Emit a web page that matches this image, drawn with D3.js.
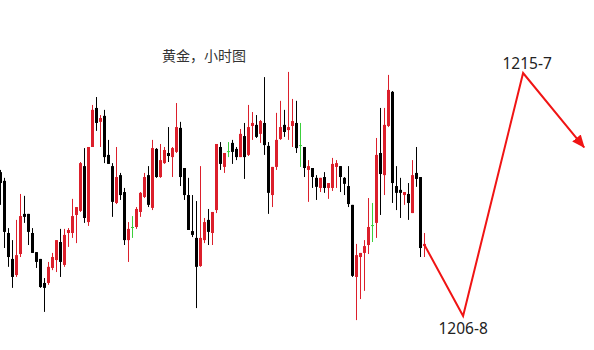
<!DOCTYPE html>
<html>
<head>
<meta charset="utf-8">
<script src="https://cdn.jsdelivr.net/npm/d3@7"></script>
<style>
  html, body { margin: 0; padding: 0; background: #fff; }
  svg { display: block; }
</style>
</head>
<body>
<div id="chart"></div>
<script>
// 黄金 hourly candles (one per hour, left to right)
var opens = [
  1212.07, 1211.75, 1209.84, 1208.89, 1208.30, 1209.07, 1210.54, 1210.54, 1209.84, 1209.14,
  1208.89, 1208.01, 1208.01, 1208.56, 1208.85, 1209.51, 1208.67, 1209.84, 1209.84, 1210.50,
  1210.65, 1212.29, 1210.24, 1212.99, 1214.42, 1213.91, 1214.13, 1212.70, 1212.29, 1210.94,
  1211.96, 1211.34, 1209.58, 1210.06, 1210.06, 1210.61, 1211.16, 1211.96, 1210.76, 1212.92,
  1211.89, 1212.40, 1212.77, 1212.62, 1212.81, 1213.69, 1212.22, 1211.23, 1209.91, 1209.66,
  1208.63, 1209.58, 1210.32, 1209.84, 1210.68, 1212.99, 1212.26, 1212.84, 1213.14, 1212.92,
  1212.62, 1213.39, 1212.70, 1213.76, 1213.80, 1213.47, 1213.87, 1213.03, 1211.23, 1212.26,
  1213.28, 1213.80, 1213.61, 1213.76, 1213.87, 1213.06, 1212.99, 1212.15, 1212.22, 1211.86,
  1211.49, 1211.89, 1211.49, 1211.49, 1212.26, 1212.29, 1211.86, 1211.56, 1210.87, 1208.23,
  1208.96, 1209.11, 1209.40, 1210.13, 1210.21, 1212.77, 1211.96, 1213.76, 1215.01, 1211.56,
  1211.42, 1211.23, 1211.27, 1210.57, 1212.04, 1211.89, 1209.36
];
var highs = [
  1212.15, 1211.86, 1210.02, 1209.58, 1210.32, 1211.27, 1211.20, 1210.54, 1210.02, 1209.14,
  1208.89, 1208.19, 1208.78, 1209.11, 1209.58, 1209.99, 1209.99, 1210.02, 1211.09, 1210.79,
  1212.44, 1212.95, 1212.99, 1214.53, 1214.82, 1214.16, 1214.35, 1213.25, 1212.40, 1212.99,
  1212.04, 1211.49, 1210.24, 1210.46, 1210.79, 1211.34, 1212.04, 1212.29, 1213.25, 1212.95,
  1213.10, 1212.99, 1213.72, 1212.99, 1214.60, 1213.91, 1212.22, 1211.86, 1211.23, 1211.01,
  1212.29, 1210.39, 1210.72, 1210.61, 1213.10, 1213.17, 1212.77, 1213.17, 1213.25, 1212.99,
  1213.65, 1213.87, 1214.53, 1214.27, 1214.16, 1213.98, 1215.55, 1213.17, 1212.26, 1214.24,
  1214.68, 1214.35, 1215.74, 1214.75, 1214.68, 1213.87, 1212.99, 1212.51, 1212.22, 1211.96,
  1211.86, 1212.07, 1211.67, 1212.59, 1212.51, 1212.29, 1211.89, 1212.29, 1210.87, 1209.44,
  1209.11, 1209.58, 1211.12, 1210.94, 1213.32, 1214.42, 1214.42, 1215.63, 1215.04, 1212.29,
  1211.86, 1211.34, 1211.67, 1212.51, 1212.99, 1211.89, 1209.84
];
var lows = [
  1210.87, 1209.29, 1208.60, 1207.83, 1208.23, 1208.96, 1210.21, 1209.40, 1209.11, 1208.56,
  1207.83, 1206.95, 1207.94, 1208.48, 1208.41, 1208.23, 1208.60, 1209.33, 1209.66, 1209.47,
  1210.61, 1210.21, 1210.10, 1212.99, 1213.58, 1212.99, 1212.40, 1212.37, 1210.43, 1210.90,
  1211.05, 1209.40, 1208.78, 1209.66, 1209.99, 1210.43, 1211.12, 1210.79, 1210.68, 1211.86,
  1211.86, 1212.37, 1212.44, 1211.89, 1212.77, 1211.56, 1211.05, 1209.95, 1209.69, 1207.09,
  1208.60, 1209.47, 1209.40, 1209.40, 1210.57, 1212.15, 1212.04, 1212.62, 1212.37, 1212.51,
  1212.62, 1211.82, 1212.66, 1213.25, 1213.32, 1213.14, 1212.70, 1210.54, 1210.79, 1212.15,
  1213.25, 1213.36, 1213.25, 1212.99, 1212.77, 1212.26, 1211.89, 1210.98, 1211.49, 1211.05,
  1211.34, 1211.31, 1211.09, 1211.38, 1211.49, 1211.34, 1211.23, 1210.79, 1208.23, 1206.65,
  1207.42, 1207.72, 1209.07, 1209.51, 1209.66, 1210.50, 1211.23, 1213.72, 1210.94, 1210.68,
  1210.39, 1210.87, 1210.32, 1210.57, 1211.53, 1208.96, 1208.96
];
var closes = [
  1211.67, 1209.88, 1208.96, 1208.23, 1209.03, 1210.46, 1210.43, 1209.88, 1209.11, 1208.78,
  1207.86, 1207.83, 1208.60, 1208.96, 1209.58, 1208.78, 1209.77, 1209.95, 1210.46, 1210.79,
  1212.40, 1210.39, 1212.99, 1214.35, 1213.87, 1214.05, 1212.62, 1212.37, 1210.98, 1211.89,
  1211.23, 1209.58, 1209.99, 1210.06, 1210.72, 1211.31, 1211.89, 1210.87, 1212.95, 1211.89,
  1212.51, 1212.88, 1212.66, 1212.95, 1213.72, 1211.89, 1211.23, 1209.95, 1209.77, 1208.60,
  1209.66, 1210.24, 1209.88, 1210.61, 1213.10, 1212.37, 1212.77, 1212.84, 1212.81, 1212.62,
  1213.47, 1212.62, 1213.72, 1213.87, 1213.36, 1213.94, 1213.06, 1211.31, 1212.26, 1213.25,
  1213.72, 1213.54, 1213.72, 1213.94, 1212.95, 1213.06, 1212.22, 1212.29, 1211.89, 1211.53,
  1211.86, 1211.49, 1211.67, 1212.37, 1212.40, 1211.89, 1211.64, 1210.90, 1208.27, 1209.03,
  1209.11, 1209.36, 1210.06, 1210.13, 1212.70, 1212.00, 1213.80, 1215.08, 1211.67, 1211.31,
  1211.31, 1211.34, 1210.94, 1211.96, 1211.82, 1209.29, 1209.44
];

// the hand drawn forecast: start, low target, high target, then down again
var projHours  = [106, 115.65, 130.65, 145.9];
var projPrices = [1209.40, 1206.8, 1215.7, 1212.98];
var projLabels = ["", "1206-8", "1215-7", ""];

var title = "黄金，小时图";

(function() {
  var width = 594, height = 350;

  var svg = d3.select("#chart")
    .append("svg")
      .attr("width", width)
      .attr("height", height);

  var x = d3.scaleLinear()
    .domain([0, 106])
    .range([0.5, 424.5]);

  var y = d3.scaleLinear()
    .domain([1206.8, 1215.7])
    .range([316, 73]);

  var data = opens.map(function(o, i) {
    return { i: i, open: o, high: highs[i], low: lows[i], close: closes[i] };
  });

  function colour(d) {
    if (d.close > d.open) return "#dc1f2b";
    if (d.close < d.open) return "#000";
    return "#3ccf3c";
  }

  var candles = svg.append("g").selectAll("g")
    .data(data)
    .enter().append("g");

  // wicks
  candles.append("line")
    .attr("x1", function(d) { return x(d.i); })
    .attr("x2", function(d) { return x(d.i); })
    .attr("y1", function(d) { return y(d.high); })
    .attr("y2", function(d) { return y(d.low); })
    .attr("stroke", colour)
    .attr("stroke-width", 1);

  // bodies (a doji gets a short flat bar)
  candles.append("rect")
    .attr("x", function(d) { return x(d.i) - 1.5; })
    .attr("width", 3)
    .attr("y", function(d) { return Math.min(y(d.open), y(d.close)); })
    .attr("height", function(d) { return Math.max(1, Math.abs(y(d.open) - y(d.close))); })
    .attr("fill", colour);

  // forecast arrow
  svg.append("defs").append("marker")
      .attr("id", "head")
      .attr("markerUnits", "userSpaceOnUse")
      .attr("viewBox", "0 0 13 11")
      .attr("refX", 12)
      .attr("refY", 5.5)
      .attr("markerWidth", 13)
      .attr("markerHeight", 11)
      .attr("orient", "auto")
    .append("path")
      .attr("d", "M0,0 L13,5.5 L0,11 z")
      .attr("fill", "#f01414");

  var proj = projHours.map(function(h, i) { return [h, projPrices[i]]; });

  svg.append("path")
    .datum(proj)
    .attr("fill", "none")
    .attr("stroke", "#f01414")
    .attr("stroke-width", 2)
    .attr("stroke-linejoin", "miter")
    .attr("marker-end", "url(#head)")
    .attr("d", d3.line()
      .x(function(d) { return x(d[0]); })
      .y(function(d) { return y(d[1]); })
    );

  svg.append("g").selectAll("text")
    .data(proj.filter(function(d, i) { return projLabels[i]; }))
    .enter().append("text")
      .attr("x", function(d) { return x(d[0]) + (d[1] < 1210 ? 0 : 4); })
      .attr("y", function(d) { return d[1] < 1210 ? y(d[1]) + 18 : y(d[1]) - 4; })
      .attr("text-anchor", "middle")
      .attr("font-family", "'Noto Sans', sans-serif")
      .attr("font-size", 15.5)
      .attr("fill", "#222")
      .text(function(d) { return projLabels[proj.indexOf(d)]; });

  svg.append("text")
    .attr("x", 162)
    .attr("y", 61)
    .attr("font-family", "'Noto Sans CJK SC', sans-serif")
    .attr("font-size", 14)
    .attr("fill", "#333")
    .text(title);
})();
</script>
</body>
</html>
